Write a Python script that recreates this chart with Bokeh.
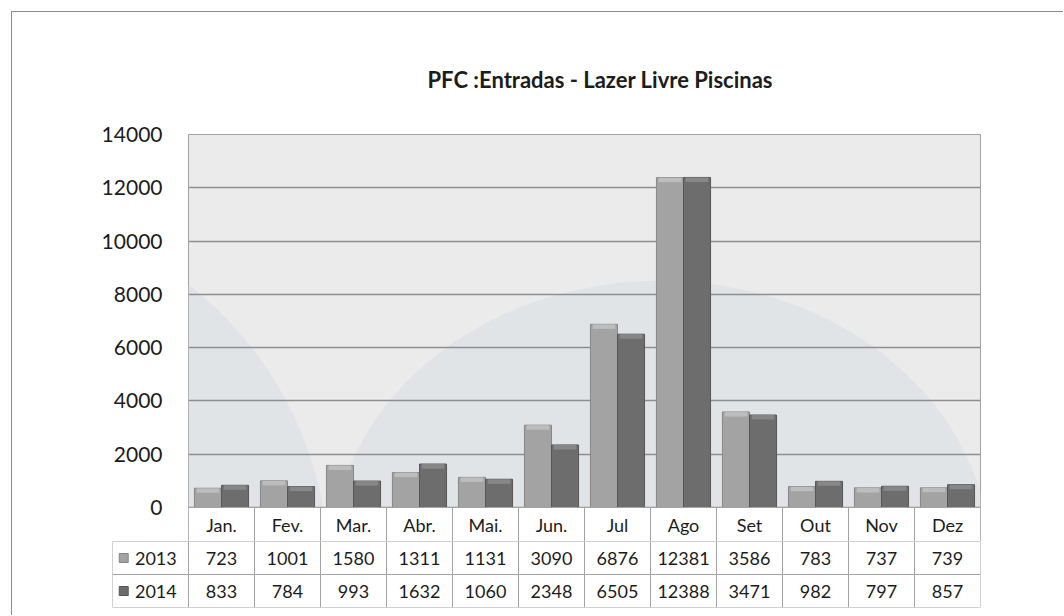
from bokeh.plotting import figure
from bokeh.layouts import column
from bokeh.models import Range1d, FactorRange, FixedTicker, ColumnDataSource, NumeralTickFormatter
from bokeh.transform import dodge
from bokeh.core.properties import value
from bokeh.embed import file_html
from bokeh.resources import INLINE

# --- data -----------------------------------------------------------------
months = ["Jan.", "Fev.", "Mar.", "Abr.", "Mai.", "Jun.", "Jul", "Ago", "Set", "Out", "Nov", "Dez"]
series_names = ["2013", "2014"]
entries_2013 = [723, 1001, 1580, 1311, 1131, 3090, 6876, 12381, 3586, 783, 737, 739]
entries_2014 = [833, 784, 993, 1632, 1060, 2348, 6505, 12388, 3471, 982, 797, 857]
y_ticks = [0, 2000, 4000, 6000, 8000, 10000, 12000, 14000]
title_text = "PFC :Entradas - Lazer Livre Piscinas"

# --- styling --------------------------------------------------------------
FONT = "Lato"
TEXT = "#1c1c1c"
PLOT_BG = "#ebebeb"
SWOOSH = "#d9dfe4"
GRID = "#8e8e8e"
CELL_LINE = "#a2a2a2"
BAR_FILL = {"2013": "#a3a3a3", "2014": "#6d6d6d"}
BAR_LINE = {"2013": "#878787", "2014": "#575757"}
BAR_CAP = {"2013": "#c2c2c2", "2014": "#8c8c8c"}

Y_MAX = 14000
Y_MIN = -1276          # room under zero for the month-name row
BAR_W = 0.41
CAP = 170              # height of the lighter bevel band on top of each bar
FIG_W = 1052

src = ColumnDataSource(dict(month=months, s2013=entries_2013, s2014=entries_2014,
                            c2013=[v - CAP for v in entries_2013],
                            c2014=[v - CAP for v in entries_2014]))

# --- chart with the month-name row ----------------------------------------
p = figure(width=FIG_W, height=529, x_range=FactorRange(*months),
           y_range=Range1d(Y_MIN, Y_MAX), output_backend="svg",
           toolbar_location=None, min_border=0)
p.frame_align = False
p.min_border_left = 176
p.min_border_right = FIG_W + 12 - 980
p.min_border_top = 122
p.min_border_bottom = 0
p.background_fill_color = PLOT_BG
p.border_fill_color = "white"
p.outline_line_color = CELL_LINE

p.title.text = title_text
p.title.align = "left"
p.title.offset = 239
p.title.standoff = 84
p.title.text_font = FONT
p.title.text_font_size = "22px"
p.title.text_font_style = "bold"
p.title.text_color = TEXT

p.xaxis.visible = False
p.xgrid.grid_line_color = None
p.ygrid.ticker = FixedTicker(ticks=y_ticks)
p.ygrid.grid_line_color = GRID
p.ygrid.grid_line_width = 1.6

ax = p.yaxis[0]
ax.ticker = FixedTicker(ticks=y_ticks)
ax.formatter = NumeralTickFormatter(format="0")
ax.axis_line_color = None
ax.major_tick_line_color = None
ax.minor_tick_line_color = None
ax.major_label_standoff = 20
ax.major_label_text_font = FONT
ax.major_label_text_font_size = "21px"
ax.major_label_text_color = TEXT

# faint decorative swooshes in the plot background
p.ellipse(x=[-2.85, 7.15], y=[-2740, -1990], width=[10.0, 10.0],
          height=[27000, 21000], fill_color=SWOOSH, fill_alpha=0.55,
          line_color=None, level="image")

for name, off in zip(series_names, (-BAR_W / 2, BAR_W / 2)):
    xs = dodge("month", off, range=p.x_range)
    p.vbar(x=xs, top="s" + name, bottom=0, width=BAR_W, source=src,
           fill_color=BAR_FILL[name], line_color=BAR_LINE[name], line_width=1)
    p.vbar(x=xs, top="s" + name, bottom="c" + name, width=BAR_W * 0.84, source=src,
           fill_color=BAR_CAP[name], line_color=None, fill_alpha=0.85)

# month-name row of the data table
p.rect(x=months, y=Y_MIN / 2, width=1, height=-Y_MIN, fill_color="white",
       line_color=CELL_LINE, line_width=1)
p.text(x=months, y=[Y_MIN / 2] * 12, text=months, text_align="center",
       text_baseline="middle", text_font=value(FONT), text_font_size="18px",
       text_color=TEXT)

# --- data table rows ------------------------------------------------------
LEFT_COL = 76 / 66.0
t = figure(width=FIG_W, height=75, x_range=Range1d(-LEFT_COL, 12),
           y_range=Range1d(0, 2), output_backend="svg", toolbar_location=None,
           min_border=0)
t.frame_align = False
t.min_border_left = 100
t.min_border_right = FIG_W + 12 - 980
t.min_border_top = 0
t.min_border_bottom = 9
t.xaxis.visible = False
t.yaxis.visible = False
t.grid.visible = False
t.outline_line_color = None
t.background_fill_color = "white"
t.border_fill_color = "white"

idx = list(range(12))
for row, (name, vals) in enumerate(zip(series_names, (entries_2013, entries_2014))):
    yc = 1.5 - row
    t.rect(x=[i + 0.5 for i in idx], y=yc, width=1, height=1, fill_color="white",
           line_color=CELL_LINE, line_width=1)
    t.text(x=[i + 0.5 for i in idx], y=[yc] * 12, text=[str(v) for v in vals],
           text_align="center", text_baseline="middle", text_font=value(FONT),
           text_font_size="18px", text_color=TEXT)
    t.rect(x=-LEFT_COL / 2, y=yc, width=LEFT_COL, height=1, fill_color="white",
           line_color=CELL_LINE, line_width=1)
    t.scatter(x=[-LEFT_COL + 0.17], y=[yc], marker="square", size=9,
              fill_color=BAR_FILL[name], line_color=BAR_LINE[name])
    t.text(x=[-LEFT_COL + 0.34], y=[yc], text=[name], text_align="left",
           text_baseline="middle", text_font=value(FONT), text_font_size="18px",
           text_color=TEXT)

# thin frame line along the top and left edges of the whole chart
layout = column(p, t, margin=(12, 0, 0, 12),
                styles={"box-shadow": "-1px -1px 0 0 #8a8a8a"})

open("out.html", "w").write(file_html(layout, INLINE))
